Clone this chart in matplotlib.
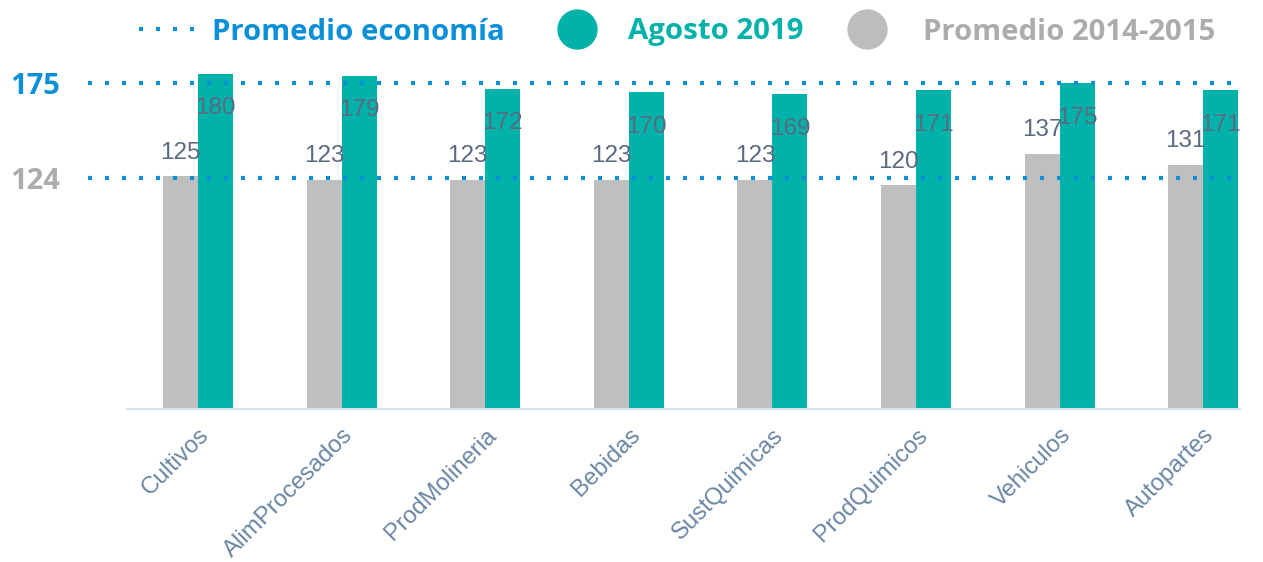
import matplotlib.pyplot as plt
from matplotlib.lines import Line2D
import numpy as np

# Datos del gráfico
categorias = ['Cultivos', 'AlimProcesados', 'ProdMolineria', 'Bebidas',
              'SustQuimicas', 'ProdQuimicos', 'Vehiculos', 'Autopartes']
agosto_2019 = [180, 179, 172, 170, 169, 171, 175, 171]
prom_2014_2015 = [125, 123, 123, 123, 123, 120, 137, 131]
promedio_agosto = 175
promedio_2014 = 124

# Colores
azul = '#0b90d8'
verde = '#00b2aa'
gris_barra = '#bfbfbf'
gris_texto = '#acacac'
color_valores = '#5a6a80'
color_ticks = '#6a86a3'

fig = plt.figure(figsize=(12.63, 5.62), dpi=100)
ax = fig.add_axes([127 / 1263, 153 / 562, 1113 / 1263, 372.6 / 562])

x = np.arange(len(categorias))
ancho = 0.244

ax.bar(x - ancho / 2, prom_2014_2015, ancho, color=gris_barra, zorder=2)
ax.bar(x + ancho / 2, agosto_2019, ancho, color=verde, zorder=2)

ax.set_xlim(-0.494, 7.256)
ax.set_ylim(0, 200)

# Líneas punteadas de promedio (sobre las barras)
for valor in [promedio_agosto, promedio_2014]:
    ax.plot([-0.766, 7.256], [valor, valor], color=azul, lw=3,
            dashes=(0.96, 3.12), clip_on=False, zorder=3)

# Etiquetas de valores
for i in range(len(categorias)):
    ax.annotate(str(prom_2014_2015[i]), (x[i] - ancho / 2, prom_2014_2015[i]),
                xytext=(0, 17), textcoords='offset points', ha='center',
                va='center', fontsize=17.5, color=color_valores,
                family='Liberation Sans', zorder=4)
    ax.annotate(str(agosto_2019[i]), (x[i] + ancho / 2, agosto_2019[i]),
                xytext=(0, -25), textcoords='offset points', ha='center',
                va='center', fontsize=17.5, color=color_valores,
                family='Liberation Sans', zorder=4)

# Ejes
for lado in ['left', 'right', 'top']:
    ax.spines[lado].set_visible(False)
ax.spines['bottom'].set_color('#dbe3ea')
ax.spines['bottom'].set_linewidth(1.5)

ax.set_xticks(x)
ax.set_xticklabels(categorias, rotation=45, ha='right', rotation_mode='anchor',
                   fontsize=17.2, color=color_ticks, family='Liberation Sans')
ax.tick_params(axis='x', length=0, pad=11)

ax.set_yticks([promedio_2014, promedio_agosto])
ax.set_yticklabels([str(promedio_2014), str(promedio_agosto)],
                   fontsize=21, fontweight='bold', family='Open Sans')
ax.tick_params(axis='y', length=0, pad=48)
ax.get_yticklabels()[0].set_color(gris_texto)
ax.get_yticklabels()[1].set_color(azul)

# Leyenda dibujada a mano
y_ley = 1 - 29 / 562
y_txt = 1 - 32 / 562
fig.add_artist(Line2D([139 / 1263, 195 / 1263], [y_ley, y_ley], color=azul, lw=3,
                      dashes=(0.96, 3.12), transform=fig.transFigure))
fig.text(212 / 1263, y_txt, 'Promedio economía', color=azul, fontsize=21.2,
         fontweight='bold', family='Open Sans', va='center')
fig.add_artist(Line2D([577 / 1263], [y_ley], marker='o', markersize=28,
                      color=verde, transform=fig.transFigure))
fig.text(628 / 1263, y_txt, 'Agosto 2019', color=verde, fontsize=21.2,
         fontweight='bold', family='Open Sans', va='center')
fig.add_artist(Line2D([867 / 1263], [y_ley], marker='o', markersize=28,
                      color='#bdbdbd', transform=fig.transFigure))
fig.text(923 / 1263, y_txt, 'Promedio 2014-2015', color=gris_texto, fontsize=21.2,
         fontweight='bold', family='Open Sans', va='center')

plt.savefig('out.png', dpi=100)
